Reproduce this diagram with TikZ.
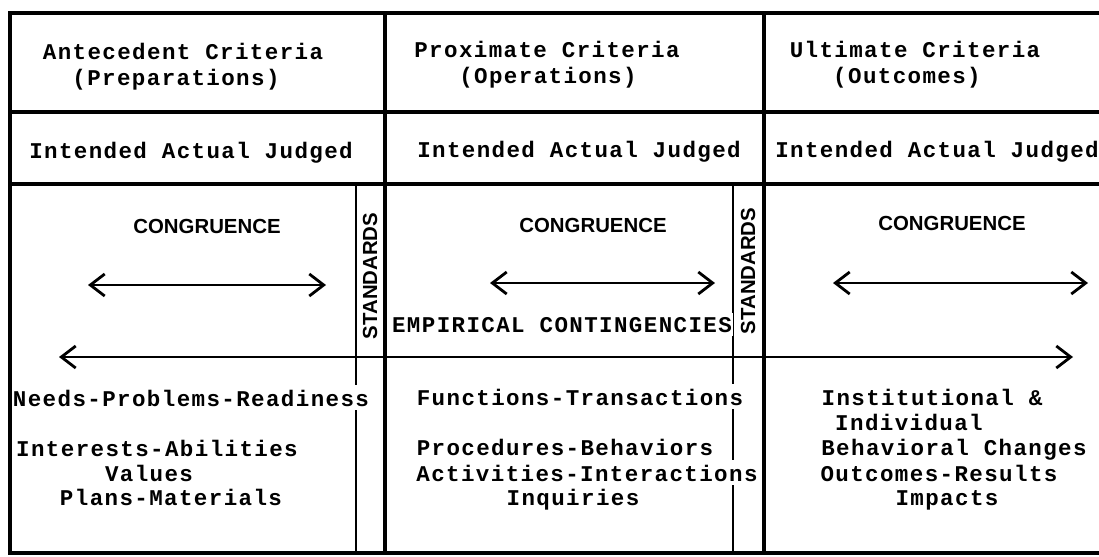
\documentclass[tikz,border=0pt]{standalone}
\usepackage{fontspec}
\setmonofont[LetterSpace=6.2]{Liberation Mono}
\setsansfont{Liberation Sans}
\usetikzlibrary{arrows.meta}

\begin{document}
\begin{tikzpicture}[x=0.25mm,y=-0.25mm,
  frame/.style={line width=1mm},
  rule/.style={line width=0.45mm},
  both/.style={line width=0.5mm,{Straight Barb[length=3.6mm,width=5.5mm,line width=0.7mm]}-{Straight Barb[length=3.6mm,width=5.5mm,line width=0.7mm]}},
  mono/.style={font=\fontsize{16}{19}\ttfamily\bfseries,anchor=base,fill=white,inner xsep=1pt,inner ysep=3pt},
  caps/.style={font=\fontsize{14.5}{17}\sffamily\bfseries,inner sep=0pt}]
\useasboundingbox (0,0) rectangle (1099,556);

% thin rules in front of the standards strips
\draw[rule] (356,184) -- (356,553);
\draw[rule] (733,184) -- (733,553);

% congruence arrows, one per column
\coordinate (c1l) at (88,285);  \coordinate (c1r) at (326,285);
\coordinate (c2l) at (490,283); \coordinate (c2r) at (715,283);
\coordinate (c3l) at (833,283); \coordinate (c3r) at (1088,283);
\draw[both] (c1l) -- (c1r);
\draw[both] (c2l) -- (c2r);
\draw[both] (c3l) -- (c3r);

% contingencies across all three columns
\coordinate (el) at (59,357); \coordinate (er) at (1073,357);
\draw[both] (el) -- (er);

% column heads
\node[mono] (ante) at (183,59) {Antecedent Criteria};
\node[mono] (ante-sub) at (176,85) {(Preparations)};
\node[mono] (prox) at (547,57) {Proximate Criteria};
\node[mono] (prox-sub) at (548,83) {(Operations)};
\node[mono] (ulti) at (915,57) {Ultimate Criteria};
\node[mono] (ulti-sub) at (907,83) {(Outcomes)};

\node[mono] (iaj1) at (191,158) {Intended Actual Judged};
\node[mono] (iaj2) at (579,157) {Intended Actual Judged};
\node[mono] (iaj3) at (937,157) {Intended Actual Judged};

% congruence and standards
\node[caps,anchor=base] (cong1) at (207,233) {CONGRUENCE};
\node[caps,anchor=base] (cong2) at (593,232) {CONGRUENCE};
\node[caps,anchor=base] (cong3) at (952,230) {CONGRUENCE};
\node[caps,rotate=90] (std1) at (370,276) {STANDARDS};
\node[caps,rotate=90] (std2) at (748,271) {STANDARDS};

\node[mono] (empir) at (562,332) {EMPIRICAL CONTINGENCIES};

% antecedents
\node[mono] (needs) at (191,406) {Needs-Problems-Readiness};
\node[mono] (interests) at (157,456) {Interests-Abilities};
\node[mono] (values) at (149,481) {Values};
\node[mono] (plans) at (171,505) {Plans-Materials};

% transactions
\node[mono] (functions) at (580,405) {Functions-Transactions};
\node[mono] (procedures) at (565,455) {Procedures-Behaviors};
\node[mono] (activities) at (587,481) {Activities-Interactions};
\node[mono] (inquiries) at (573,505) {Inquiries};

% outcomes
\node[mono] (institutional) at (932,405) {Institutional \&};
\node[mono] (individual) at (909,430) {Individual};
\node[mono] (behavioral) at (954,455) {Behavioral Changes};
\node[mono] (outcomes) at (939,481) {Outcomes-Results};
\node[mono] (impacts) at (947,505) {Impacts};

% table frame last so it sits on top
\draw[frame] (1099,13) -- (10,13) -- (10,553) -- (1099,553);
\draw[frame] (10,112) -- (1099,112);
\draw[frame] (10,184) -- (1099,184);
\draw[frame] (385,13) -- (385,553);
\draw[frame] (764,13) -- (764,553);
\end{tikzpicture}
\end{document}
